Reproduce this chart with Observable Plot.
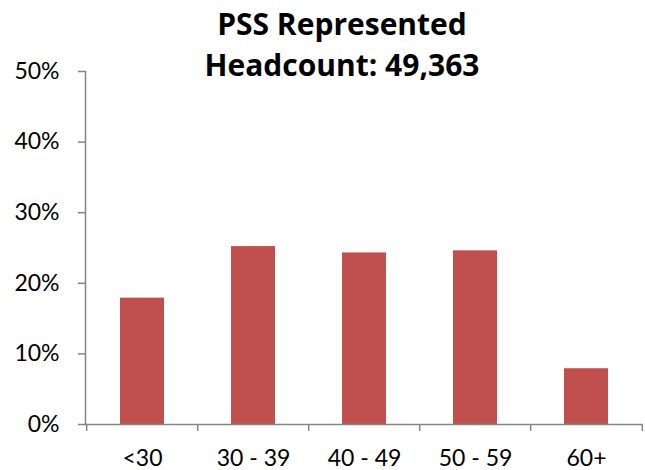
<!DOCTYPE html>
<html>
<head>
<meta charset="utf-8">
<script src="https://cdn.jsdelivr.net/npm/d3@7"></script>
<script src="https://cdn.jsdelivr.net/npm/@observablehq/plot@0.6"></script>
<style>
  html, body { margin: 0; padding: 0; background: #fff; }
  #wrap { position: relative; width: 645px; height: 470px; font-family: Lato, "Open Sans", sans-serif; }
  #title { position: absolute; left: 142px; width: 400px; top: 3px; text-align: center;
           font-family: "Open Sans", sans-serif;
           font-weight: bold; font-size: 30px; line-height: 41px; color: #000; }
</style>
</head>
<body>
<div id="wrap">
  <div id="chart"></div>
  <div id="title">PSS Represented<br>Headcount: 49,363</div>
</div>
<script>
const categories = ["<30", "30 - 39", "40 - 49", "50 - 59", "60+"];
const shares = [0.179, 0.252, 0.243, 0.246, 0.079];
const yTicks = [0, 0.1, 0.2, 0.3, 0.4, 0.5];

const data = categories.map((c, i) => ({category: c, share: shares[i]}));

const W = 645, H = 470, mL = 85, mR = 2, mT = 71, mB = 46;
const step = (W - mL - mR) / categories.length;
const axisColor = "#868686";
const noLabel = () => "";

const chart = Plot.plot({
  width: W,
  height: H,
  marginLeft: mL,
  marginRight: mR,
  marginTop: mT,
  marginBottom: mB,
  style: {fontFamily: "Lato, 'Open Sans', sans-serif", fontSize: "23px", color: "#000", background: "transparent"},
  x: {domain: categories, paddingInner: 0.6, paddingOuter: 0.3, label: null},
  y: {domain: [0, 0.5], label: null},
  marks: [
    Plot.barY(data, {x: "category", y: "share", fill: "#C0504D"}),
    Plot.ruleY([0], {stroke: axisColor, strokeWidth: 1.5}),
    Plot.frame({anchor: "left", stroke: axisColor, strokeWidth: 1.5}),
    Plot.axisY({ticks: yTicks, tickFormat: d3.format(".0%"), tickSize: 7, tickPadding: 19, stroke: axisColor, strokeWidth: 1.5, fill: "#000", fontSize: 23}),
    Plot.axisX({tickSize: 0, tickPadding: 25, fill: "#000", fontSize: 23}),
    Plot.axisX(categories, {dx: -step / 2, tickSize: 7, tickFormat: noLabel, stroke: axisColor, strokeWidth: 1.5}),
    Plot.axisX(categories.slice(-1), {dx: step / 2, tickSize: 7, tickFormat: noLabel, stroke: axisColor, strokeWidth: 1.5})
  ]
});
document.getElementById("chart").appendChild(chart);
</script>
</body>
</html>
